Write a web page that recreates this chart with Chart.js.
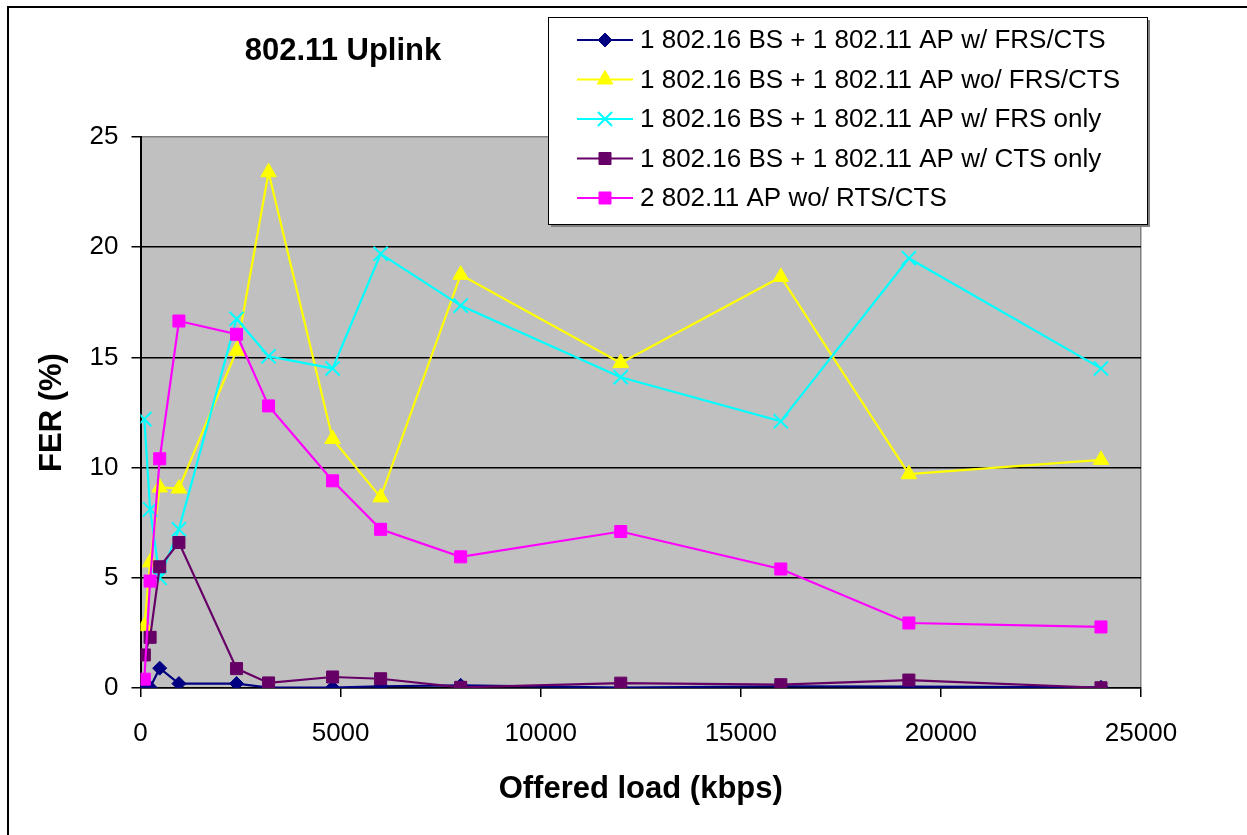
<!DOCTYPE html>
<html>
<head>
<meta charset="utf-8">
<title>802.11 Uplink</title>
<script src="https://cdn.jsdelivr.net/npm/chart.js@4"></script>
<style>
html, body { margin: 0; padding: 0; background: #fff; }
</style>
</head>
<body>
<canvas id="uplinkChart" width="1247" height="835"></canvas>
<script>
// offered load (kbps) and FER (%) per configuration
var loads = [96, 240, 480, 960, 2400, 3200, 4800, 6000, 8000, 12000, 16000, 19200, 24000];
var frsCts   = [0.02, 0.02, 0.9, 0.2, 0.2, 0.02, 0.02, 0.08, 0.12, 0.02, 0.08, 0.06, 0.03];
var noFrsCts = [2.8, 5.7, 9.1, 9.05, 15.3, 23.4, 11.3, 8.65, 18.75, 14.75, 18.65, 9.7, 10.35];
var frsOnly  = [12.2, 8.1, 5.0, 7.2, 16.75, 15.05, 14.5, 19.7, 17.35, 14.1, 12.1, 19.5, 14.5];
var ctsOnly  = [1.5, 2.3, 5.5, 6.6, 0.88, 0.23, 0.5, 0.42, 0.03, 0.22, 0.15, 0.36, 0.01];
var twoAp    = [0.4, 4.85, 10.4, 16.65, 16.05, 12.8, 9.4, 7.2, 5.95, 7.1, 5.4, 2.95, 2.77];

var seriesNames = [
  "1 802.16 BS + 1 802.11 AP w/ FRS/CTS",
  "1 802.16 BS + 1 802.11 AP wo/ FRS/CTS",
  "1 802.16 BS + 1 802.11 AP w/ FRS only",
  "1 802.16 BS + 1 802.11 AP w/ CTS only",
  "2 802.11 AP wo/ RTS/CTS"
];
var yTicks = [0, 5, 10, 15, 20, 25];
var xTicks = [0, 5000, 10000, 15000, 20000, 25000];

var FONT = "'Liberation Sans', Arial, sans-serif";
Chart.defaults.color = '#000';
Chart.defaults.font.family = FONT;

function pts(arr) {
  return loads.map(function (x, i) { return { x: x, y: arr[i] }; });
}

function series(i, arr, color, style, radius) {
  return {
    label: seriesNames[i],
    data: pts(arr),
    borderColor: color,
    backgroundColor: color,
    borderWidth: 2.2,
    pointStyle: style,
    pointRadius: radius,
    pointHoverRadius: radius,
    pointBorderColor: color,
    pointBackgroundColor: color,
    pointBorderWidth: style === 'crossRot' ? 2 : 1,
    tension: 0,
    order: 4 - i
  };
}

// white page, grey plot area, frame lines
var background = {
  id: 'background',
  beforeDraw: function (chart) {
    var ctx = chart.ctx, a = chart.chartArea;
    ctx.save();
    ctx.fillStyle = '#fff';
    ctx.fillRect(0, 0, chart.width, chart.height);
    ctx.fillStyle = '#c0c0c0';
    ctx.fillRect(a.left, a.top, a.right - a.left, a.bottom - a.top);
    ctx.strokeStyle = '#000';
    ctx.lineWidth = 2;
    ctx.beginPath();
    ctx.moveTo(8, chart.height);
    ctx.lineTo(8, 7);
    ctx.lineTo(chart.width, 7);
    ctx.stroke();
    ctx.restore();
  }
};

var chartTitle = {
  id: 'chartTitle',
  afterDraw: function (chart) {
    var ctx = chart.ctx;
    ctx.save();
    ctx.font = 'bold 31px ' + FONT;
    ctx.fillStyle = '#000';
    ctx.textAlign = 'center';
    ctx.textBaseline = 'middle';
    ctx.fillText('802.11 Uplink', 343, 51);
    ctx.restore();
  }
};

// boxed legend sitting over the top right of the plot
var boxLegend = {
  id: 'boxLegend',
  afterDraw: function (chart) {
    var ctx = chart.ctx;
    var bx = 548, by = 17, bw = 599, bh = 207;
    ctx.save();
    ctx.fillStyle = '#808080';
    ctx.fillRect(bx + 3, by + 3, bw, bh);
    ctx.fillStyle = '#fff';
    ctx.fillRect(bx, by, bw, bh);
    ctx.strokeStyle = '#000';
    ctx.lineWidth = 1;
    ctx.strokeRect(bx + 0.5, by + 0.5, bw, bh);
    ctx.font = '26px ' + FONT;
    ctx.textBaseline = 'middle';
    ctx.textAlign = 'left';
    chart.data.datasets.forEach(function (ds, i) {
      var y = 40 + i * 39.5;
      ctx.strokeStyle = ds.borderColor;
      ctx.lineWidth = 2.2;
      ctx.beginPath();
      ctx.moveTo(577, y);
      ctx.lineTo(633, y);
      ctx.stroke();
      ctx.fillStyle = ds.borderColor;
      ctx.lineWidth = ds.pointBorderWidth;
      Chart.helpers.drawPoint(ctx, {
        pointStyle: ds.pointStyle,
        radius: ds.pointRadius,
        rotation: 0,
        borderWidth: ds.pointBorderWidth
      }, 605, y);
      ctx.fillStyle = '#000';
      ctx.fillText(ds.label, 640, y + 1);
    });
    ctx.restore();
  }
};

var ctx = document.getElementById('uplinkChart').getContext('2d');
var uplinkChart = new Chart(ctx, {
  type: 'line',
  data: {
    datasets: [
      series(0, frsCts, '#000080', 'rectRot', 7),
      series(1, noFrsCts, '#ffff00', 'triangle', 9),
      series(2, frsOnly, '#00ffff', 'crossRot', 10),
      series(3, ctsOnly, '#660066', 'rect', 8.5),
      series(4, twoAp, '#ff00ff', 'rect', 8.5)
    ]
  },
  options: {
    responsive: false,
    animation: false,
    layout: { padding: { left: 10, top: 137, right: 106, bottom: 0 } },
    plugins: {
      legend: { display: false },
      title: { display: false },
      tooltip: { enabled: false }
    },
    scales: {
      x: {
        type: 'linear',
        min: 0,
        max: 25000,
        afterFit: function (s) { s.height = 147; },
        afterBuildTicks: function (s) { s.ticks = xTicks.map(function (v) { return { value: v }; }); },
        ticks: {
          font: { size: 26 },
          padding: 21,
          maxRotation: 0,
          callback: function (v) { return String(v); }
        },
        grid: {
          color: function (c) { return c.tick && c.tick.value === 25000 ? '#808080' : 'rgba(0,0,0,0)'; },
          tickColor: '#000',
          tickLength: 9,
          lineWidth: 1.5
        },
        border: { color: '#000', width: 1.5 },
        title: {
          display: true,
          text: 'Offered load (kbps)',
          font: { size: 31, weight: 'bold' },
          padding: { top: 0, bottom: 27 }
        }
      },
      y: {
        min: 0,
        max: 25,
        afterFit: function (s) { s.width = 130.5; },
        afterBuildTicks: function (s) { s.ticks = yTicks.map(function (v) { return { value: v }; }); },
        ticks: {
          font: { size: 26 },
          padding: 13,
          callback: function (v) { return String(v); }
        },
        grid: {
          color: function (c) { return c.tick && c.tick.value === 25 ? '#808080' : '#000'; },
          tickColor: '#000',
          tickLength: 9,
          lineWidth: 1.5
        },
        border: { color: '#000', width: 2 },
        title: {
          display: true,
          text: 'FER (%)',
          font: { size: 31, weight: 'bold' },
          padding: { top: 24, bottom: 0 }
        }
      }
    }
  },
  plugins: [background, chartTitle, boxLegend]
});
</script>
</body>
</html>
